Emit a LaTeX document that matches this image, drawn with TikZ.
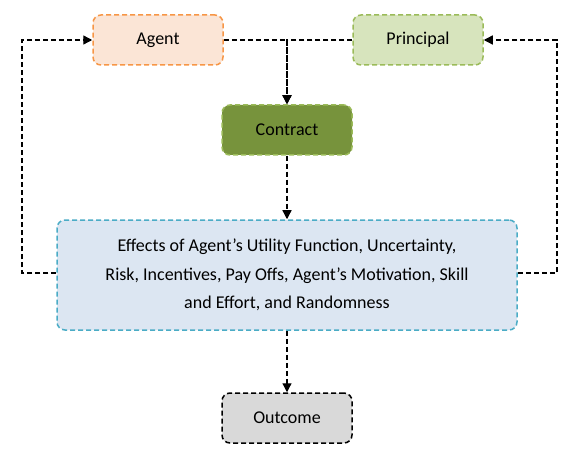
\documentclass[tikz,border=0pt]{standalone}
\usepackage{fontspec}
\setmainfont{Carlito}
\usetikzlibrary{arrows.meta}
\definecolor{agentfill}{HTML}{FBE5D6}
\definecolor{agentline}{HTML}{F79646}
\definecolor{princfill}{HTML}{D7E4BD}
\definecolor{princline}{HTML}{9BBB59}
\definecolor{contrfill}{HTML}{77933C}
\definecolor{effectfill}{HTML}{DCE6F2}
\definecolor{effectline}{HTML}{4BACC6}
\definecolor{outfill}{HTML}{D9D9D9}
\begin{document}
\begin{tikzpicture}[x=1pt,y=-1pt,>={Triangle[length=9pt,width=9pt]},
	box/.style={draw,rounded corners=8pt,line width=1.5pt,dash pattern=on 5pt off 3pt,
		minimum width=130pt,minimum height=50pt,font=\fontsize{18}{28.5}\selectfont},
	flow/.style={->,line width=1.3pt,dash pattern=on 5pt off 3pt}]
	\useasboundingbox (0,0) rectangle (586,457);
	\node[box,draw=agentline,fill=agentfill] (A) at (158,40) {Agent};
	\node[box,draw=princline,fill=princfill] (P) at (418,40) {Principal};
	\node[box,draw=princline,fill=contrfill] (C) at (287,130) {Contract};
	\node[box,draw=effectline,fill=effectfill,minimum width=460pt,minimum height=110pt,
		align=center] (E) at (287,275)
		{Effects of Agent’s Utility Function, Uncertainty,\\
		Risk, Incentives, Pay Offs, Agent’s Motivation, Skill\\
		and Effort, and Randomness};
	\node[box,fill=outfill] (O) at (287,418) {Outcome};
	\coordinate (L) at (22,273);
	\coordinate (R) at (557,273);

	\draw[flow] (A.east) -| (C.north);
	\draw[flow] (P.west) -| (C.north);
	\draw[flow] (C) -- (E);
	\draw[flow] (E) -- (O);
	\draw[flow] (E.west |- L) -- (L) |- (A.west);
	\draw[flow] (E.east |- R) -- (R) |- (P.east);
\end{tikzpicture}
\end{document}
